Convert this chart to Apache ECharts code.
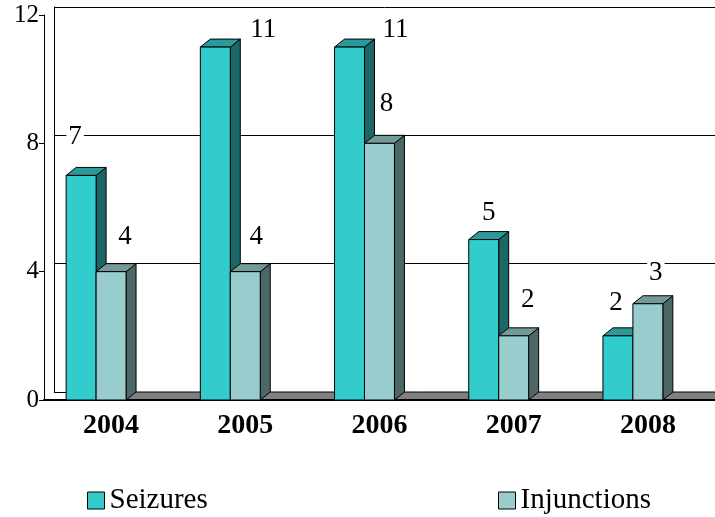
<!DOCTYPE html>
<html>
<head>
<meta charset="utf-8">
<script src="https://cdn.jsdelivr.net/npm/echarts@6/dist/echarts.min.js"></script>
<style>
  html, body { margin: 0; padding: 0; background: #fff; }
  #chart { width: 715px; height: 517px; }
</style>
</head>
<body>
<div id="chart"></div>
<script>
// data
var years = ['2004', '2005', '2006', '2007', '2008'];
var seizures = [7, 11, 11, 5, 2];
var injunctions = [4, 4, 8, 2, 3];
var yTicks = [0, 4, 8, 12];

// label nudges (px) relative to bar front-top centre, like excel placed them
var seizNudge = [[-6, -39], [48, -17], [46, -17], [5, -27], [-2, -33]];
var injNudge = [[14, -35], [11, -35], [7, -39], [14, -36], [8, -31]];

var FONT = 'Liberation Serif';
var DX = 10, DY = 8;          // fake 3d depth
var BAR_FRAC = 0.2232;        // bar width as part of the band

function makeBar(offset, front, top, side, nudge) {
  return function (params, api) {
    var cat = api.value(0), val = api.value(1);
    var band = api.size([1, 0])[0];
    var base = api.coord([cat, 0]);
    var tip = api.coord([cat, val]);
    var w = band * BAR_FRAC;
    var x0 = base[0] + offset * band, x1 = x0 + w;
    var y0 = base[1], y1 = tip[1];
    var ln = {stroke: '#000', lineWidth: 1};
    var n = nudge[params.dataIndex];
    return {
      type: 'group',
      children: [
        {type: 'polygon', shape: {points: [[x1, y1], [x1 + DX, y1 - DY], [x1 + DX, y0 - DY], [x1, y0]]},
          style: Object.assign({fill: side}, ln)},
        {type: 'polygon', shape: {points: [[x0, y1], [x1, y1], [x1 + DX, y1 - DY], [x0 + DX, y1 - DY]]},
          style: Object.assign({fill: top}, ln)},
        {type: 'rect', shape: {x: x0, y: y1, width: w, height: y0 - y1},
          style: Object.assign({fill: front}, ln)},
        {type: 'text', z2: 50,
          style: {text: String(val), x: (x0 + x1) / 2 + n[0], y: y1 + n[1],
            align: 'center', verticalAlign: 'middle', fill: '#000',
            fontFamily: FONT, fontSize: 27, backgroundColor: '#fff', padding: [0, 2]}}
      ]
    };
  };
}

var chart = echarts.init(document.getElementById('chart'));

function legendFor(name, left) {
  return {
    data: [name], left: left, top: 481, icon: 'rect',
    itemWidth: 17, itemHeight: 17,
    itemStyle: {borderColor: '#000', borderWidth: 1},
    textStyle: {color: '#000', fontFamily: FONT, fontSize: 29}
  };
}

var option = {
  animation: false,
  backgroundColor: '#fff',
  textStyle: {fontFamily: FONT},
  grid: [
    {left: 44, right: 0, top: 15, bottom: 117},
    {left: 54, right: -10, top: 7, bottom: 125}
  ],
  xAxis: [
    {
      type: 'category', gridIndex: 0, data: years,
      axisLine: {lineStyle: {color: '#000', width: 2}},
      axisTick: {length: 6, lineStyle: {color: '#000'}},
      axisLabel: {color: '#000', fontFamily: FONT, fontSize: 28, fontWeight: 'bold', margin: 12}
    },
    {type: 'category', gridIndex: 1, data: years, show: false}
  ],
  yAxis: [
    {
      type: 'value', gridIndex: 0, min: 0, max: 12, interval: 4,
      axisLine: {show: true, lineStyle: {color: '#000'}},
      axisTick: {show: true, length: 5, lineStyle: {color: '#000'}},
      axisLabel: {color: '#000', fontFamily: FONT, fontSize: 25, margin: 5},
      splitLine: {show: false}
    },
    {
      type: 'value', gridIndex: 1, min: 0, max: 12, interval: 4,
      axisLine: {show: true, lineStyle: {color: '#000'}},
      axisTick: {show: false},
      axisLabel: {show: false},
      splitLine: {show: true, lineStyle: {color: '#000', width: 1}}
    }
  ],
  legend: [legendFor('Seizures', 82), legendFor('Injunctions', 493)],
  series: [
    {
      // floor + diagonals from front axis to the back wall
      type: 'custom', name: 'floor', xAxisIndex: 0, yAxisIndex: 0, z: 1,
      silent: true,
      data: yTicks,
      renderItem: function (params, api) {
        var v = api.value(0);
        var left = api.coord([-0.5, v]);
        var kids = [];
        if (v === 0) {
          var right = api.coord([years.length - 0.5, 0]);
          kids.push({type: 'polygon',
            shape: {points: [[left[0], left[1]], [right[0], right[1]], [right[0] + DX, right[1] - DY], [left[0] + DX, left[1] - DY]]},
            style: {fill: '#808080', stroke: '#000', lineWidth: 1}});
          kids.push({type: 'line', shape: {x1: left[0], y1: left[1], x2: right[0], y2: right[1]},
            style: {stroke: '#000', lineWidth: 2}});
        } else {
          kids.push({type: 'line', shape: {x1: left[0], y1: left[1], x2: left[0] + DX, y2: left[1] - DY},
            style: {stroke: '#000', lineWidth: 1}});
        }
        return {type: 'group', children: kids};
      }
    },
    {
      type: 'custom', name: 'Seizures', xAxisIndex: 0, yAxisIndex: 0, z: 3,
      itemStyle: {color: '#33CCCC'},
      data: seizures.map(function (v, i) { return [i, v]; }),
      renderItem: makeBar(-0.335, '#33CCCC', '#2A9A9A', '#1B6666', seizNudge)
    },
    {
      type: 'custom', name: 'Injunctions', xAxisIndex: 0, yAxisIndex: 0, z: 4,
      itemStyle: {color: '#99CCCC'},
      data: injunctions.map(function (v, i) { return [i, v]; }),
      renderItem: makeBar(-0.335 + BAR_FRAC, '#99CCCC', '#739999', '#4D6666', injNudge)
    }
  ]
};

chart.setOption(option);
</script>
</body>
</html>
